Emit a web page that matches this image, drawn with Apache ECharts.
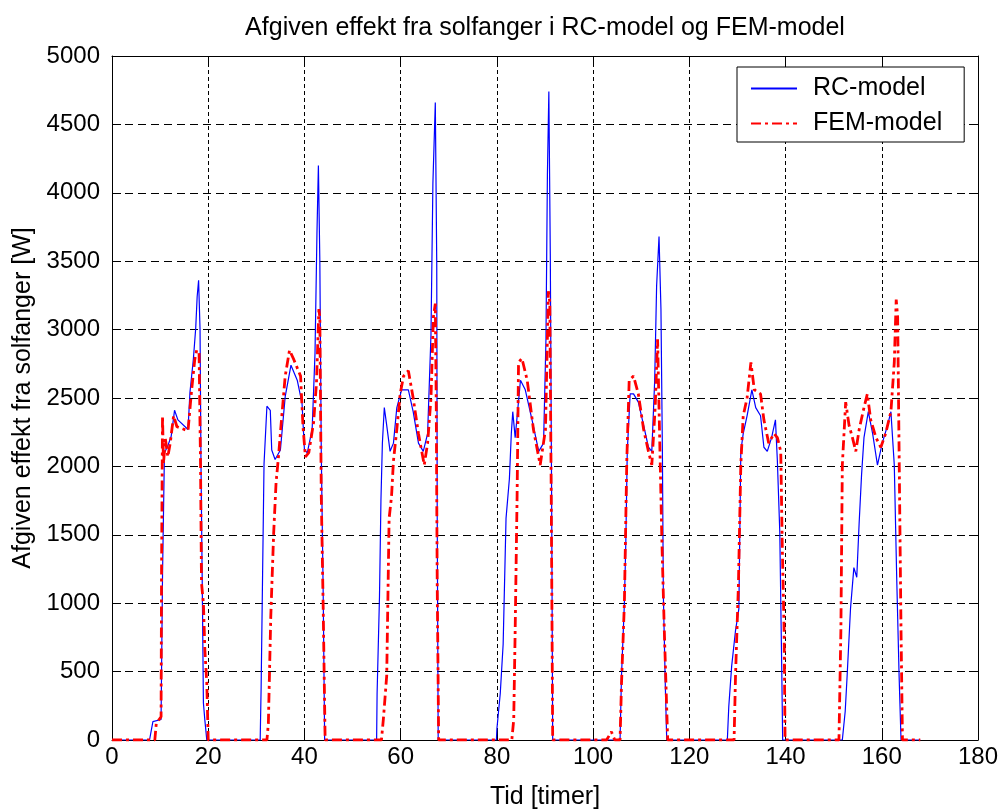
<!DOCTYPE html>
<html>
<head>
<meta charset="utf-8">
<script src="https://cdn.jsdelivr.net/npm/echarts@6/dist/echarts.min.js"></script>
<style>
html,body{margin:0;padding:0;background:#fff;}
#chart{width:1002px;height:811px;}
</style>
</head>
<body>
<div id="chart"></div>
<script>
var titleText = 'Afgiven effekt fra solfanger i RC-model og FEM-model';
var xLabel = 'Tid [timer]';
var yLabel = 'Afgiven effekt fra solfanger [W]';
var seriesNames = ['RC-model', 'FEM-model'];
var xTicks = [0, 20, 40, 60, 80, 100, 120, 140, 160, 180];
var yTicks = [0, 500, 1000, 1500, 2000, 2500, 3000, 3500, 4000, 4500, 5000];

var rcTime = [0,7.8,8.5,10.2,10.5,10.9,11.6,12.3,13,13.7,15.8,16.2,16.9,17.4,17.7,18.0,18.3,18.5,18.8,19.0,19.3,19.7,
  30.8,31.0,31.3,31.6,32.2,32.9,33.2,33.9,35.0,36.0,37.2,38.5,39.5,40.0,40.6,41.6,42.2,42.6,42.9,43.2,43.5,43.9,44.2,
  55.0,55.1,55.6,55.9,56.2,56.6,57.1,57.8,58.5,59.2,60.2,61.6,62.6,63.7,64.7,65.6,66.3,66.7,67.2,67.5,67.6,67.8,
  79.9,80.0,80.7,81.3,81.9,82.6,83.0,83.3,83.8,84.9,85.9,87.3,88.7,89.7,90.2,90.5,90.8,91.1,91.4,91.6,
  105.6,105.9,106.5,106.8,107.1,107.7,108.4,109.4,110.5,111.5,112.2,112.8,113.2,113.7,114.1,114.4,114.6,115.0,115.3,
  127.9,128.2,128.8,129.6,130.3,130.7,131.2,132.0,133.0,133.8,134.8,135.5,136.2,137.1,137.9,138.3,138.8,139.2,139.4,
  151.8,152.4,152.8,153.5,154.2,154.8,155.3,155.8,156.3,157.2,158.1,159.1,160.1,161.2,161.9,162.6,163.1,163.6,164.0,168];
var rcPower = [0,0,134,150,1200,2100,2150,2220,2410,2340,2270,2540,2780,3010,3240,3360,3000,2000,1000,270,145,0,
  0,390,1210,2020,2440,2410,2120,2050,2120,2510,2740,2630,2460,2120,2100,2270,2830,3700,4200,3500,2100,1060,0,
  0,340,1050,1750,2170,2430,2300,2110,2170,2430,2560,2560,2400,2170,2110,2240,2960,4070,4660,3480,1620,0,
  0,80,340,700,1620,1910,2240,2400,2210,2630,2560,2340,2110,2170,2930,4130,4740,3550,1620,0,
  0,470,1000,1450,2110,2530,2530,2470,2300,2140,2110,2630,3320,3680,3150,2110,1060,410,0,
  0,245,540,800,960,2110,2240,2370,2560,2430,2370,2140,2110,2210,2340,2040,1520,540,0,
  0,210,470,960,1260,1190,1590,1940,2210,2400,2240,2010,2170,2300,2400,2010,1190,470,0,0];

var femTime = [0,8.9,9.2,10.2,10.3,10.5,10.7,11.1,11.6,12.1,12.8,13.5,15.8,16.5,17.2,17.6,18.1,18.4,18.6,19.0,19.3,19.7,20.0,
  32.2,32.5,33.0,33.6,34.1,34.6,35.3,36.0,36.9,37.8,39.2,39.7,40.2,40.9,41.9,42.5,43.0,43.2,43.5,43.9,44.3,
  56.0,56.4,57.1,57.6,58.1,58.5,59.2,59.9,60.6,61.6,62.6,63.7,64.9,65.6,66.3,66.8,67.2,67.4,67.6,67.9,
  83.1,83.5,83.8,84.2,84.5,85.2,86.3,87.6,89.0,90.1,90.7,91.0,91.3,91.6,
  102.8,103.8,104.5,
  105.6,105.9,106.5,107.0,107.5,108.4,109.4,110.5,111.5,112.2,112.9,113.4,113.7,114.3,114.8,115.5,
  129.3,129.6,130.2,130.7,131.2,132.0,132.8,133.5,134.8,135.5,136.5,137.6,138.3,139.0,139.3,139.7,139.9,
  151.1,151.5,151.8,152.5,153.2,153.9,154.6,155.3,156.3,157.0,157.7,158.8,159.8,160.8,161.9,162.6,163.0,163.3,163.6,164.0,164.3,168];
var femPower = [0,0,120,170,1240,2370,2020,2200,2070,2170,2370,2290,2260,2540,2780,2850,2830,2020,1150,1000,660,420,0,
  0,120,900,1510,1880,2070,2370,2660,2850,2780,2660,2290,2070,2100,2320,2610,3150,3090,1780,960,0,
  0,150,470,1620,1780,2040,2270,2530,2660,2700,2500,2240,2010,2170,2500,3090,3190,2430,1130,0,
  0,150,800,1780,2760,2790,2630,2270,2010,2270,3280,3200,1780,0,
  0,60,0,
  0,410,1000,2040,2630,2660,2530,2270,2110,2010,2430,2930,2430,1450,800,0,
  0,470,1130,2010,2370,2500,2760,2560,2530,2340,2170,2240,2210,2110,1450,800,0,
  0,800,2010,2470,2300,2210,2110,2270,2430,2530,2340,2210,2140,2240,2400,2760,3220,3090,2110,800,0,0];

function zip(a, b) { var out = []; for (var i = 0; i < a.length; i++) out.push([a[i], b[i]]); return out; }

var FONT = '"Liberation Sans", Arial, Helvetica, sans-serif';
var chart = echarts.init(document.getElementById('chart'), null, {renderer: 'canvas'});

var xMin = xTicks[0], xMax = xTicks[xTicks.length - 1], xInt = xTicks[1] - xTicks[0];
var yMin = yTicks[0], yMax = yTicks[yTicks.length - 1], yInt = yTicks[1] - yTicks[0];

var axLine = {show: true, onZero: false, lineStyle: {color: '#000', width: 1}};
var axTick = {show: true, inside: true, length: 9, lineStyle: {color: '#000', width: 1}};
function plain(v) { return String(v); }

chart.setOption({
  animation: false,
  backgroundColor: '#fff',
  title: {
    text: titleText, left: 545, top: 16, textAlign: 'center', padding: 0,
    textStyle: {fontFamily: FONT, fontSize: 25, fontWeight: 'normal', color: '#000'}
  },
  legend: {
    orient: 'vertical', left: 737, top: 67,
    padding: [9, 22, 6, 13], itemWidth: 46, itemHeight: 14, itemGap: 10,
    borderColor: '#000', borderWidth: 1, backgroundColor: '#fff',
    itemStyle: {opacity: 0},
    textStyle: {fontFamily: FONT, fontSize: 25, color: '#000', lineHeight: 24, padding: [0, 0, 0, 11]},
    data: seriesNames
  },
  grid: {left: 112, right: 24, top: 56, bottom: 71, containLabel: false, outerBoundsMode: 'none'},
  xAxis: [{
    type: 'value', min: xMin, max: xMax, interval: xInt, position: 'bottom',
    name: xLabel, nameLocation: 'middle', nameGap: 45,
    nameTextStyle: {fontFamily: FONT, fontSize: 25, color: '#000'},
    axisLine: axLine, axisTick: axTick,
    axisLabel: {fontFamily: FONT, fontSize: 24, color: '#000', margin: 5, formatter: plain},
    splitLine: {show: true, lineStyle: {color: '#000', width: 1, type: [4, 3]}}
  }, {
    type: 'value', min: xMin, max: xMax, interval: xInt, position: 'top',
    axisLine: axLine, axisTick: axTick, axisLabel: {show: false}, splitLine: {show: false}
  }],
  yAxis: [{
    type: 'value', min: yMin, max: yMax, interval: yInt, position: 'left',
    name: yLabel, nameLocation: 'middle', nameGap: 76, nameRotate: 90,
    nameTextStyle: {fontFamily: FONT, fontSize: 25, color: '#000'},
    axisLine: axLine, axisTick: axTick,
    axisLabel: {fontFamily: FONT, fontSize: 24, color: '#000', margin: 12, formatter: plain},
    splitLine: {show: true, lineStyle: {color: '#000', width: 1, type: [8, 5]}}
  }, {
    type: 'value', min: yMin, max: yMax, interval: yInt, position: 'right',
    axisLine: axLine, axisTick: axTick, axisLabel: {show: false}, splitLine: {show: false}
  }],
  series: [{
    name: seriesNames[0], type: 'line', data: zip(rcTime, rcPower),
    showSymbol: false, symbol: 'none', z: 3,
    itemStyle: {color: '#0000ff'},
    lineStyle: {color: '#0000ff', width: 1.2, type: 'solid'}
  }, {
    name: seriesNames[1], type: 'line', data: zip(femTime, femPower),
    showSymbol: false, symbol: 'none', z: 4,
    itemStyle: {color: '#ff0000'},
    lineStyle: {color: '#ff0000', width: 2.8, type: [10, 4, 3, 4]}
  }]
});
</script>
</body>
</html>
